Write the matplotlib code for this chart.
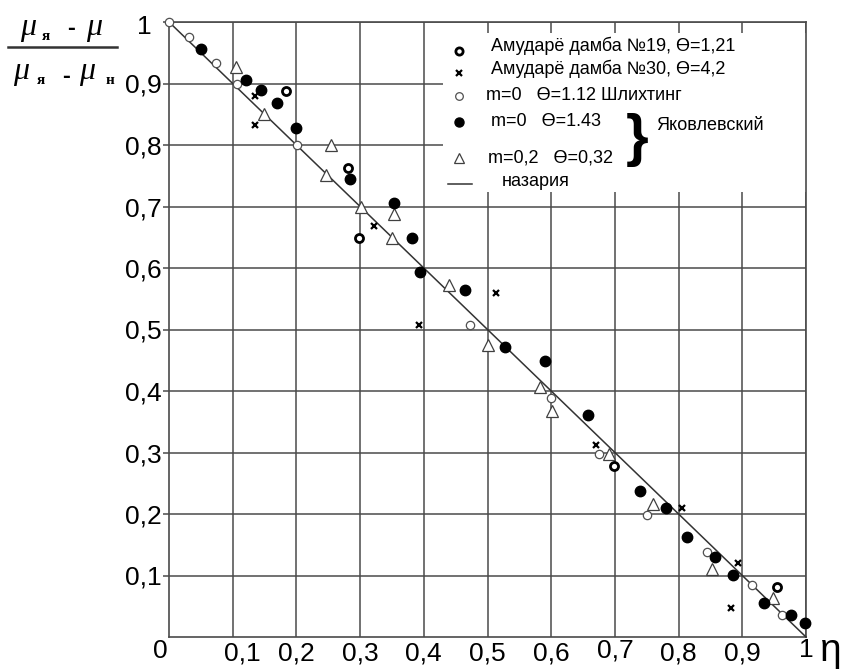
import matplotlib
matplotlib.use("Agg")
import matplotlib.pyplot as plt
from matplotlib.patches import Rectangle
from matplotlib.lines import Line2D
import matplotlib.transforms as mtransforms

# ---------------- data ----------------
amu19_x = [0.183, 0.281, 0.298, 0.698, 0.955]
amu19_y = [0.887, 0.763, 0.649, 0.278, 0.081]

amu30_x = [0.135, 0.135, 0.322, 0.392, 0.513, 0.670, 0.806, 0.894, 0.883]
amu30_y = [0.879, 0.833, 0.668, 0.508, 0.559, 0.312, 0.209, 0.121, 0.047]

schl_x = [0.000, 0.032, 0.074, 0.106, 0.201, 0.473, 0.599, 0.675, 0.750, 0.844, 0.915, 0.963]
schl_y = [1.000, 0.976, 0.934, 0.899, 0.800, 0.508, 0.388, 0.297, 0.198, 0.139, 0.085, 0.035]

yak0_x = [0.051, 0.121, 0.144, 0.170, 0.200, 0.284, 0.354, 0.382, 0.394, 0.464, 0.527,
          0.590, 0.657, 0.740, 0.780, 0.813, 0.857, 0.886, 0.934, 0.976, 0.998]
yak0_y = [0.956, 0.906, 0.889, 0.869, 0.827, 0.744, 0.705, 0.649, 0.594, 0.565, 0.472,
          0.448, 0.361, 0.237, 0.209, 0.163, 0.130, 0.101, 0.055, 0.035, 0.022]

yak02_x = [0.105, 0.149, 0.254, 0.246, 0.301, 0.353, 0.350, 0.439, 0.500, 0.582, 0.601,
           0.691, 0.760, 0.852, 0.948]
yak02_y = [0.927, 0.850, 0.800, 0.752, 0.700, 0.687, 0.648, 0.573, 0.475, 0.406, 0.367,
           0.298, 0.216, 0.111, 0.063]

theory_x = [0.0, 1.0]
theory_y = [1.0, 0.0]

tick_vals = [0.1, 0.2, 0.3, 0.4, 0.5, 0.6, 0.7, 0.8, 0.9, 1.0]
tick_labels = ["0,1", "0,2", "0,3", "0,4", "0,5", "0,6", "0,7", "0,8", "0,9", "1"]

legend_labels = ["Амударё дамба №19, Ө=1,21",
                 "Амударё дамба №30, Ө=4,2",
                 "m=0   Ө=1.12 Шлихтинг",
                 "m=0   Ө=1.43",
                 "m=0,2   Ө=0,32",
                 "назария"]
brace_label = "Яковлевский"

# ---------------- figure ----------------
W, H = 843, 670
plt.rcParams["font.family"] = ["Liberation Sans", "DejaVu Sans"]
fig = plt.figure(figsize=(W / 100, H / 100), dpi=100)
L, R, T, B = 169, 806, 22, 637
ax = fig.add_axes([L / W, 1 - B / H, (R - L) / W, (B - T) / H])
ax.set_xlim(0, 1)
ax.set_ylim(0, 1)

gcol = "#4a4a4a"
ax.set_axisbelow(True)
ax.grid(True, color=gcol, lw=1.1)
for s in ax.spines.values():
    s.set_color(gcol)
    s.set_linewidth(1.2)

ax.set_xticks(tick_vals)
ax.set_yticks(tick_vals)
ax.set_xticklabels(tick_labels, fontsize=19)
ax.set_yticklabels(tick_labels, fontsize=19)
ax.tick_params(axis="x", length=0, pad=3)
ax.tick_params(axis="y", length=4.3, width=1.1, color=gcol, pad=1)

# small manual label adjustments
for lab in ax.get_xticklabels():
    if lab.get_text() == "0,1":
        lab.set_transform(lab.get_transform() + mtransforms.ScaledTranslation(10 / 100, 0, fig.dpi_scale_trans))
    if lab.get_text() in ("0,7", "1"):
        lab.set_transform(lab.get_transform() + mtransforms.ScaledTranslation(0, 3 / 100, fig.dpi_scale_trans))
for lab in ax.get_yticklabels():
    if lab.get_text() == "1":
        lab.set_transform(lab.get_transform() + mtransforms.ScaledTranslation(-10 / 100, -3 / 100, fig.dpi_scale_trans))


def P(x, y):
    return (x / W, 1 - y / H)


ft = fig.transFigure
fig.text(*P(160, 651), "0", fontsize=19, ha="center", va="center", transform=ft)
fig.text(*P(831, 651), "η", fontsize=28, ha="center", va="center", transform=ft)

# ---------------- series ----------------
ax.plot(theory_x, theory_y, color="#333333", lw=1.1, zorder=3, clip_on=False)
ax.plot(yak02_x, yak02_y, ls="none", marker="^", ms=8.5, mfc="white", mec="#404040", mew=0.9, zorder=4, clip_on=False)
ax.plot(schl_x, schl_y, ls="none", marker="o", ms=6, mfc="white", mec="#505050", mew=0.9, zorder=4, clip_on=False)
ax.plot(yak0_x, yak0_y, ls="none", marker="o", ms=7.5, mfc="black", mec="black", zorder=5, clip_on=False)
ax.plot(amu19_x, amu19_y, ls="none", marker="o", ms=5.8, mfc="white", mec="black", mew=2.0, zorder=5, clip_on=False)
ax.plot(amu30_x, amu30_y, ls="none", marker="x", ms=4.5, mec="black", mew=1.6, zorder=5, clip_on=False)

# ---------------- legend (white box) ----------------
ax.add_patch(Rectangle((0.43, 0.724), 0.57, 0.258, facecolor="white", edgecolor="none", zorder=1.5))

mx = 459
styles = [
    dict(marker="o", ms=5.2, mfc="white", mec="black", mew=2.0),
    dict(marker="x", ms=4.2, mec="black", mew=1.6),
    dict(marker="o", ms=5.5, mfc="white", mec="#505050", mew=0.9),
    dict(marker="o", ms=6.5, mfc="black", mec="black"),
    dict(marker="^", ms=7, mfc="white", mec="#404040", mew=0.9),
]
marker_y = [51, 73, 96, 122, 158]
for st, my in zip(styles, marker_y):
    fig.add_artist(Line2D([mx / W], [1 - my / H], ls="none", transform=ft, **st))
fig.add_artist(Line2D([448 / W, 472 / W], [1 - 184 / H, 1 - 184 / H], color="#333333", lw=1.1, transform=ft))

text_pos = [(491, 46), (491, 69), (486, 96), (491, 122), (488, 158), (502, 182)]
for lab, (tx, ty) in zip(legend_labels, text_pos):
    fig.text(*P(tx, ty), lab, fontsize=13, ha="left", va="center", transform=ft)
fig.text(*P(637, 140), "}", fontsize=42, fontweight="bold", ha="center", va="center", transform=ft)
fig.text(*P(656, 125), brace_label, fontsize=13, ha="left", va="center", transform=ft)

# ---------------- y-axis label (fraction) ----------------
mu_kw = dict(fontsize=23, family=["Liberation Serif", "DejaVu Serif"], style="italic", ha="center", va="center", transform=ft)
sub_kw = dict(fontsize=11, family=["Liberation Serif", "DejaVu Serif"], fontweight="bold", ha="center", va="center", transform=ft)
dash_kw = dict(fontsize=17, fontweight="bold", ha="center", va="center", transform=ft)
fig.text(*P(28, 28), "μ", **mu_kw)
fig.text(*P(46, 37), "я", **sub_kw)
fig.text(*P(71, 28), "-", **dash_kw)
fig.text(*P(94, 28), "μ", **mu_kw)
fig.add_artist(Line2D([8 / W, 117 / W], [1 - 47 / H, 1 - 47 / H], color="#333333", lw=1.8, transform=ft))
fig.text(*P(21, 72), "μ", **mu_kw)
fig.text(*P(41, 80), "я", **sub_kw)
fig.text(*P(66, 77), "-", **dash_kw)
fig.text(*P(87, 72), "μ", **mu_kw)
fig.text(*P(110, 80), "н", **sub_kw)

fig.savefig("out.png", dpi=100, facecolor="white")
